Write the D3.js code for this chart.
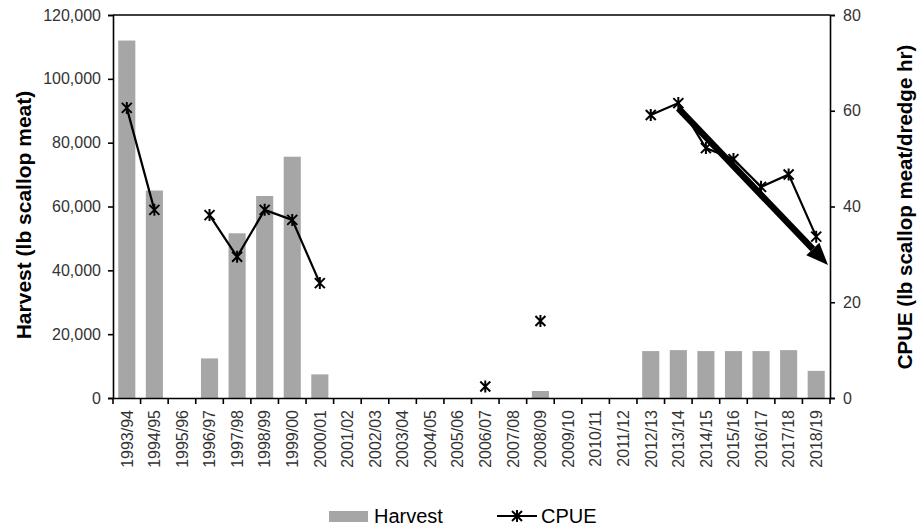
<!DOCTYPE html>
<html>
<head>
<meta charset="utf-8">
<script src="https://cdn.jsdelivr.net/npm/d3@7/dist/d3.min.js"></script>
<style>
html,body{margin:0;padding:0;background:#fff;}
svg{display:block;font-family:"Liberation Sans",Arial,sans-serif;}
</style>
</head>
<body>
<svg id="chart" width="919" height="530"></svg>
<script>
const seasons = ["1993/94","1994/95","1995/96","1996/97","1997/98","1998/99","1999/00","2000/01","2001/02","2002/03","2003/04","2004/05","2005/06","2006/07","2007/08","2008/09","2009/10","2010/11","2011/12","2012/13","2013/14","2014/15","2015/16","2016/17","2017/18","2018/19"];
const harvest = [112000,65000,0,12400,51600,63300,75600,7400,0,0,0,0,0,0,0,2200,0,0,0,14700,15000,14700,14700,14700,15000,8500];
const cpue = [60.6,39.3,null,38.2,29.5,39.3,37.2,24.0,null,null,null,null,null,2.4,null,16.1,null,null,null,59.1,61.6,52.2,49.9,44.1,46.7,33.7];
const harvestTicks = [0,20000,40000,60000,80000,100000,120000];
const cpueTicks = [0,20,40,60,80];
// trend arrow annotation (start season, CPUE) -> (right edge, CPUE)
const arrowStart = ["2013/14", 60.5];
const arrowEndCpue = 27.8;

const svg = d3.select("#chart");
const L = 113, R = 830, T = 15, B = 398;

const x = d3.scaleBand().domain(seasons).range([L, R]).paddingInner(0.38).paddingOuter(0.19);
const xb = d3.scaleBand().domain(seasons).range([L, R]);
const yL = d3.scaleLinear().domain([0,120000]).range([B, T]);
const yR = d3.scaleLinear().domain([0,80]).range([B, T]);

// bars
svg.append("g").selectAll("rect").data(seasons.map((s,i)=>({s,v:harvest[i]})).filter(d=>d.v>0))
  .join("rect")
  .attr("x", d=>x(d.s)).attr("width", x.bandwidth())
  .attr("y", d=>yL(d.v)).attr("height", d=>B - yL(d.v))
  .attr("fill", "#a6a6a6");

// axes
const fmt = d3.format(",");
const gL = svg.append("g").attr("transform",`translate(${L},0)`)
  .call(d3.axisLeft(yL).tickValues(harvestTicks).tickFormat(fmt).tickSize(5).tickPadding(7));
const gR = svg.append("g").attr("transform",`translate(${R},0)`)
  .call(d3.axisRight(yR).tickValues(cpueTicks).tickSize(5).tickPadding(8));
const gX = svg.append("g").attr("transform",`translate(0,${B})`)
  .call(d3.axisBottom(xb).tickSize(0).tickSizeOuter(0));
[gL,gR,gX].forEach(g=>{
  g.select(".domain").attr("stroke","#000").attr("stroke-width",1.6);
  g.selectAll(".tick line").attr("stroke","#000").attr("stroke-width",1.6);
  g.selectAll("text").attr("fill","#333").style("font-size","16px").style("font-family","'Liberation Sans',Arial,sans-serif");
});
gX.selectAll(".tick text")
  .attr("transform","rotate(-90)")
  .attr("text-anchor","end")
  .attr("x",-12).attr("y",0).attr("dy","0.36em");
// x ticks at band boundaries
svg.append("g").selectAll("line").data(seasons.concat(["__end"]))
  .join("line")
  .attr("x1",(d,i)=> i<seasons.length ? xb(d) : R)
  .attr("x2",(d,i)=> i<seasons.length ? xb(d) : R)
  .attr("y1",B).attr("y2",B+6).attr("stroke","#000").attr("stroke-width",1.6);
// top border
svg.append("line").attr("x1",L).attr("x2",R).attr("y1",T).attr("y2",T).attr("stroke","#000").attr("stroke-width",1.6);

// CPUE line
const cx = s => x(s) + x.bandwidth()/2;
const line = d3.line().defined(d=>d.v!==null).x(d=>cx(d.s)).y(d=>yR(d.v));
const cdata = seasons.map((s,i)=>({s,v:cpue[i]}));
svg.append("path").datum(cdata).attr("d",line).attr("fill","none").attr("stroke","#000").attr("stroke-width",2.2);

function star(g, px, py){
  const r = 5;
  g.append("path")
   .attr("d",`M${px-r},${py-r}L${px+r},${py+r}M${px-r},${py+r}L${px+r},${py-r}M${px},${py-r-1}L${px},${py+r+1}`)
   .attr("stroke","#000").attr("stroke-width",2).attr("fill","none");
}
const mg = svg.append("g");
cdata.filter(d=>d.v!==null).forEach(d=>star(mg, cx(d.s), yR(d.v)));

// trend arrow
const ax1 = cx(arrowStart[0]), ay1 = yR(arrowStart[1]);
const ax2 = R - 2, ay2 = yR(arrowEndCpue);
const ang = Math.atan2(ay2-ay1, ax2-ax1);
const headLen = 22, headW = 9;
const bx = ax2 - headLen*Math.cos(ang), by = ay2 - headLen*Math.sin(ang);
svg.append("line").attr("x1",ax1).attr("y1",ay1).attr("x2",bx).attr("y2",by)
  .attr("stroke","#000").attr("stroke-width",6.5);
const nx = -Math.sin(ang), ny = Math.cos(ang);
svg.append("path")
  .attr("d",`M${ax2},${ay2}L${bx+nx*headW},${by+ny*headW}L${bx-nx*headW},${by-ny*headW}Z`)
  .attr("fill","#000");

// axis titles
svg.append("text").attr("transform",`translate(31,${215}) rotate(-90)`)
  .attr("text-anchor","middle").style("font-weight","bold").style("font-size","21px").attr("fill","#000")
  .text("Harvest (lb scallop meat)");
svg.append("text").attr("transform",`translate(912,${207}) rotate(-90)`)
  .attr("text-anchor","middle").style("font-weight","bold").style("font-size","20.5px").attr("fill","#000")
  .text("CPUE (lb scallop meat/dredge hr)");

// legend
const lg = svg.append("g");
lg.append("rect").attr("x",329).attr("y",511).attr("width",39).attr("height",11).attr("fill","#a6a6a6");
lg.append("text").attr("x",374).attr("y",523).style("font-size","20px").attr("fill","#000").text("Harvest");
lg.append("line").attr("x1",497).attr("x2",537).attr("y1",516).attr("y2",516).attr("stroke","#000").attr("stroke-width",2.2);
star(lg, 517, 516);
lg.append("text").attr("x",541).attr("y",523).style("font-size","20px").attr("fill","#000").text("CPUE");
</script>
</body>
</html>
